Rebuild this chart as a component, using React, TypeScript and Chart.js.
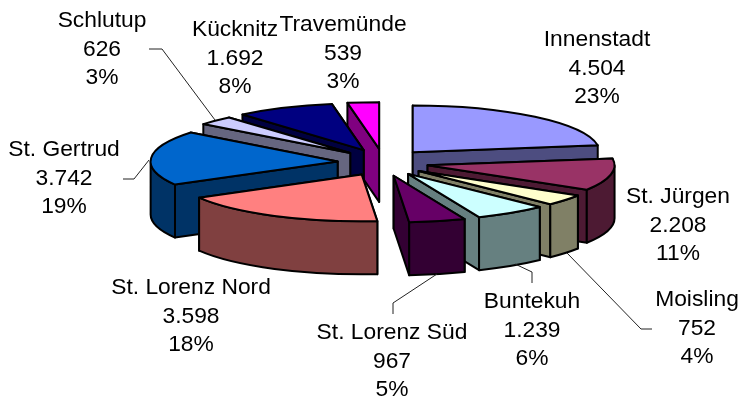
import React, { useEffect, useRef } from "react";
import { Chart, registerables } from "chart.js";

Chart.register(...registerables);

const districts = ["Innenstadt", "St. Jürgen", "Moisling", "Buntekuh", "St. Lorenz Süd", "St. Lorenz Nord", "St. Gertrud", "Schlutup", "Kücknitz", "Travemünde"];
const inhabitants = [4504, 2208, 752, 1239, 967, 3598, 3742, 626, 1692, 539];
const percentLabels = ["23%", "11%", "4%", "6%", "5%", "18%", "19%", "3%", "8%", "3%"];
const topColors = ["#9999FF", "#993366", "#FFFFCC", "#CCFFFF", "#660066", "#FF8080", "#0066CC", "#CCCCFF", "#000080", "#FF00FF"];
const wallColors = ["#4D4D80", "#4D1A33", "#808066", "#668080", "#330033", "#804040", "#003366", "#666680", "#000040", "#800080"];

// Label layout (centre x, y of first line) and leader polylines, in canvas pixels
const labelAnchors: [number, number][] = [[597, 40], [678, 197], [697, 300], [532, 302], [392, 333], [191, 288], [64, 150], [102, 21], [235, 30], [343, 25]];
const leaders: [number, number][][] = [
  [[149, 49], [162, 49], [215, 120]],
  [[123, 179], [134, 179], [149, 160]],
  [[652, 329], [641, 329], [567, 253]],
  [[515, 264], [532, 272], [532, 283]],
  [[437, 274], [393, 303], [393, 314]],
];

const TILT = 0.25;
const EXPLODE_TILT = 0.3;
const DEPTH = 53;
const FONT_SIZE = 22.8;
const LINE_GAP = 28.3;

const pie3d = {
  id: "pie3d",
  beforeDatasetsDraw(chart: any) {
    const ctx: CanvasRenderingContext2D = chart.ctx;
    const arcs = chart.getDatasetMeta(0).data.map((el: any, i: number) => {
      const p = el.getProps(["x", "y", "startAngle", "endAngle", "outerRadius"]);
      const mid = (p.startAngle + p.endAngle) / 2;
      const e = el.options.offset / 2;
      return {
        i,
        a: p.startAngle,
        b: p.endAngle,
        r: p.outerRadius,
        mid,
        cx: p.x + Math.cos(mid) * e,
        cy: p.y + Math.sin(mid) * e * EXPLODE_TILT,
        top: el.options.backgroundColor,
      };
    });
    arcs.sort((u: any, v: any) => Math.sin(u.mid) - Math.sin(v.mid));
    ctx.save();
    ctx.lineWidth = 2;
    ctx.strokeStyle = "#000";
    ctx.lineJoin = "round";
    for (const s of arcs) {
      const ry = s.r * TILT;
      const pt = (t: number): [number, number] => [s.cx + s.r * Math.cos(t), s.cy + ry * Math.sin(t)];
      const paint = (fill: string) => {
        ctx.fillStyle = fill;
        ctx.fill();
        ctx.stroke();
      };
      const radial = [s.a, s.b].sort((m, n) => pt(m)[1] - pt(n)[1]);
      for (const t of radial) {
        const [x, y] = pt(t);
        ctx.beginPath();
        ctx.moveTo(s.cx, s.cy);
        ctx.lineTo(x, y);
        ctx.lineTo(x, y + DEPTH);
        ctx.lineTo(s.cx, s.cy + DEPTH);
        ctx.closePath();
        paint(wallColors[s.i]);
      }
      const from = Math.max(s.a, 0);
      const to = Math.min(s.b, Math.PI);
      if (to > from) {
        ctx.beginPath();
        ctx.ellipse(s.cx, s.cy, s.r, ry, 0, from, to);
        ctx.ellipse(s.cx, s.cy + DEPTH, s.r, ry, 0, to, from, true);
        ctx.closePath();
        paint(wallColors[s.i]);
      }
      ctx.beginPath();
      ctx.moveTo(s.cx, s.cy);
      ctx.ellipse(s.cx, s.cy, s.r, ry, 0, s.a, s.b);
      ctx.closePath();
      paint(s.top);
    }
    ctx.restore();
    return false;
  },
  afterDraw(chart: any) {
    const ctx: CanvasRenderingContext2D = chart.ctx;
    ctx.save();
    ctx.strokeStyle = "#222";
    ctx.lineWidth = 1;
    for (const line of leaders) {
      ctx.beginPath();
      line.forEach(([x, y], k) => (k ? ctx.lineTo(x, y) : ctx.moveTo(x, y)));
      ctx.stroke();
    }
    ctx.fillStyle = "#000";
    ctx.font = `${FONT_SIZE}px "Liberation Sans", Arial, sans-serif`;
    ctx.textAlign = "center";
    ctx.textBaseline = "middle";
    districts.forEach((name, i) => {
      const [x, y] = labelAnchors[i];
      ctx.fillText(name, x, y);
      ctx.fillText(inhabitants[i].toLocaleString("de-DE"), x, y + LINE_GAP);
      ctx.fillText(percentLabels[i], x, y + 2 * LINE_GAP);
    });
    ctx.restore();
  },
};

export default function App() {
  const ref = useRef<HTMLCanvasElement>(null);
  useEffect(() => {
    document.body.style.margin = "0";
    const chart = new Chart(ref.current!, {
      type: "pie",
      data: {
        labels: districts,
        datasets: [{ data: inhabitants, backgroundColor: topColors, offset: 91, borderWidth: 0 }],
      },
      options: {
        responsive: false,
        animation: false,
        radius: 187,
        layout: { padding: { left: 25, right: 0, top: 0, bottom: 75 } },
        plugins: { legend: { display: false }, tooltip: { enabled: false } },
      } as any,
      plugins: [pie3d as any],
    });
    return () => chart.destroy();
  }, []);
  return <canvas ref={ref} width={741} height={400} style={{ display: "block", background: "#fff" }} />;
}
